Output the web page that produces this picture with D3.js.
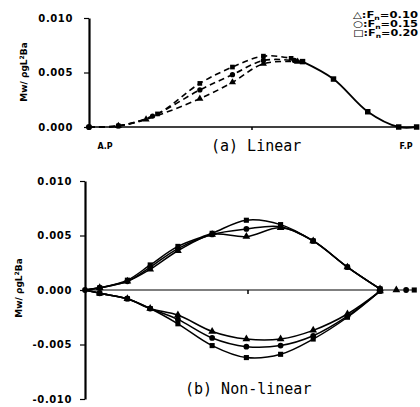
<!DOCTYPE html>
<html>
<head>
<meta charset="utf-8">
<script src="https://cdn.jsdelivr.net/npm/d3@7"></script>
<style>
    body { margin: 0; background: #fff; }
    svg { display: block; }
    .tick text { font-family: 'DejaVu Sans', sans-serif; font-weight: bold; font-size: 10px; letter-spacing: 0.6px; }
    .caption { font-family: 'DejaVu Sans Mono', monospace; font-size: 15px; }
    .small { font-family: 'DejaVu Sans', sans-serif; font-weight: bold; font-size: 8px; }
</style>
</head>
<body>
<div id="chart"></div>
<script>
// (a) Linear: stations from A.P (0) to F.P (10), values of Mw/pgL^2Ba
const linX010 = [0, 0.9, 1.75, 3.4, 4.4, 5.35, 6.4, 6.55];
const linY010 = [0, 0.0001, 0.0007, 0.0026, 0.0041, 0.0058, 0.0060, 0.0060];
const linX015 = [0, 0.9, 1.95, 3.4, 4.4, 5.35, 6.3, 6.55];
const linY015 = [0, 0.0001, 0.0010, 0.0034, 0.0048, 0.0061, 0.0061, 0.0060];
const linX020 = [0, 0.9, 2.1, 3.4, 4.4, 5.35, 6.2, 6.55];
const linY020 = [0, 0.0001, 0.0012, 0.0040, 0.0055, 0.0065, 0.0063, 0.0060];
const linCommonX = [6.55, 7.5, 8.55, 9.5, 10.05];
const linCommonY = [0.0060, 0.0044, 0.0014, 0, 0];

// (b) Non-linear: hogging (positive) and sagging (negative) branches
const nlX = [0, 0.45, 1.3, 2.0, 2.85, 3.9, 4.95, 6.0, 7.0, 8.05, 9.05];
const nlPos010 = [0, 0.0002, 0.0008, 0.0019, 0.0036, 0.0051, 0.0049, 0.0057, 0.0045, 0.0021, 0.0001];
const nlPos015 = [0, 0.0002, 0.0008, 0.0021, 0.0038, 0.0051, 0.0056, 0.0058, 0.0045, 0.0021, 0.0001];
const nlPos020 = [0, 0.0002, 0.0009, 0.0023, 0.0040, 0.0052, 0.0064, 0.0060, 0.0045, 0.0021, 0.0001];
const nlNeg010 = [0, -0.0003, -0.0008, -0.0017, -0.0023, -0.0038, -0.0045, -0.0045, -0.0037, -0.0022, -0.0001];
const nlNeg015 = [0, -0.0003, -0.0008, -0.0017, -0.0027, -0.0044, -0.0052, -0.0051, -0.0042, -0.0024, -0.0001];
const nlNeg020 = [0, -0.0003, -0.0008, -0.0017, -0.0031, -0.0051, -0.0062, -0.0059, -0.0045, -0.0025, -0.0001];
const tailX = [9.55, 9.85, 10.1];

const ticksA = [0, 0.005, 0.010];
const ticksB = [-0.010, -0.005, 0, 0.005, 0.010];
const legendSymbols = ['△', '○', '□'];
const legendValues = ['0.10', '0.15', '0.20'];

const WIDTH = 420;
const HEIGHT = 407;

const svg = d3.select('#chart').append('svg').attr('width', WIDTH).attr('height', HEIGHT);

const symbolTypes = [d3.symbolTriangle, d3.symbolCircle, d3.symbolSquare];

function zip(xs, ys) {
    return xs.map((x, i) => ({ x, y: ys[i] }));
}

function drawMarkers(g, pts, x, y, type, size) {
    g.append('g')
        .selectAll()
        .data(pts)
        .enter()
        .append('path')
        .attr('d', d3.symbol().type(type).size(size))
        .attr('transform', (d) => `translate(${x(d.x)}, ${y(d.y)})`)
        .attr('fill', '#000');
}

function drawYAxis(g, y, ticks, xPos, padding) {
    const axis = d3.axisLeft(y)
        .tickValues(ticks)
        .tickSize(5)
        .tickSizeOuter(0)
        .tickPadding(padding)
        .tickFormat((d) => d.toFixed(3));
    const a = g.append('g').attr('transform', `translate(${xPos}, 0)`).call(axis);
    a.select('.domain').attr('stroke-width', 2.2);
    a.selectAll('.tick line').attr('stroke-width', 1.2);
}

function yLabel(g, cx, cy) {
    const t = g.append('text')
        .attr('class', 'small')
        .attr('transform', `translate(${cx}, ${cy}) rotate(-90)`)
        .attr('text-anchor', 'middle')
        .style('font-size', '9px');
    t.append('tspan').text('Mw/ ρgL');
    t.append('tspan').attr('dy', -3).style('font-size', '6px').text('2');
    t.append('tspan').attr('dy', 3).text('Ba');
}

// ---------- (a) Linear ----------
const xA = d3.scaleLinear().domain([0, 10]).range([89, 415]);
const yA = d3.scaleLinear().domain([0, 0.010]).range([127, 18]);
const gA = svg.append('g');

gA.append('line')
    .attr('x1', xA(0)).attr('x2', xA(10.05))
    .attr('y1', yA(0)).attr('y2', yA(0))
    .attr('stroke', '#000').attr('stroke-width', 1.4);
gA.append('line')
    .attr('x1', xA(5)).attr('x2', xA(5))
    .attr('y1', yA(0)).attr('y2', yA(0) + 3)
    .attr('stroke', '#000').attr('stroke-width', 1.5);

drawYAxis(gA, yA, ticksA, 89, 11);

const curve = d3.curveCatmullRom.alpha(0.5);
const lineA = d3.line().x((d) => xA(d.x)).y((d) => yA(d.y)).curve(curve);

const linSeries = [zip(linX010, linY010), zip(linX015, linY015), zip(linX020, linY020)];
linSeries.forEach((pts, i) => {
    gA.append('path')
        .datum(pts)
        .attr('d', lineA)
        .attr('fill', 'none')
        .attr('stroke', '#000')
        .attr('stroke-width', 1.6)
        .attr('stroke-dasharray', '6,4');
    drawMarkers(gA, pts.slice(1, -1), xA, yA, symbolTypes[i], 22);
});

const linCommon = zip(linCommonX, linCommonY);
gA.append('path')
    .datum(linCommon)
    .attr('d', lineA)
    .attr('fill', 'none')
    .attr('stroke', '#000')
    .attr('stroke-width', 1.8);
drawMarkers(gA, linCommon, xA, yA, d3.symbolSquare, 30);
drawMarkers(gA, [{ x: 0, y: 0 }], xA, yA, d3.symbolCircle, 30);

gA.append('text').attr('class', 'small').attr('x', 105).attr('y', 149).attr('text-anchor', 'middle').text('A.P');
gA.append('text').attr('class', 'small').attr('x', 406).attr('y', 149).attr('text-anchor', 'middle').text('F.P');
gA.append('text').attr('class', 'caption').attr('x', 211).attr('y', 151).text('(a) Linear');

yLabel(gA, 27, 72);

// legend
legendSymbols.forEach((s, i) => {
    const t = gA.append('text')
        .attr('class', 'small')
        .attr('x', 353)
        .attr('y', 18 + i * 9)
        .style('font-size', '9px')
        .attr('textLength', 65)
        .attr('lengthAdjust', 'spacingAndGlyphs');
    t.append('tspan').text(`${s}:F`);
    t.append('tspan').attr('dy', 2).style('font-size', '6px').text('n');
    t.append('tspan').attr('dy', -2).text(`=${legendValues[i]}`);
});

// ---------- (b) Non-linear ----------
const xB = d3.scaleLinear().domain([0, 10]).range([85, 411]);
const yB = d3.scaleLinear().domain([-0.010, 0.010]).range([399, 181]);
const gB = svg.append('g');

gB.append('line')
    .attr('x1', xB(0)).attr('x2', xB(10.1))
    .attr('y1', yB(0)).attr('y2', yB(0))
    .attr('stroke', '#000').attr('stroke-width', 1.2);
gB.append('line')
    .attr('x1', xB(5)).attr('x2', xB(5))
    .attr('y1', yB(0)).attr('y2', yB(0) + 4)
    .attr('stroke', '#000').attr('stroke-width', 1.5);

drawYAxis(gB, yB, ticksB, 85, 8);

const lineB = d3.line().x((d) => xB(d.x)).y((d) => yB(d.y)).curve(curve);
const nlSeries = [
    zip(nlX, nlPos010), zip(nlX, nlPos015), zip(nlX, nlPos020),
    zip(nlX, nlNeg010), zip(nlX, nlNeg015), zip(nlX, nlNeg020)
];
nlSeries.forEach((pts, i) => {
    gB.append('path')
        .datum(pts)
        .attr('d', lineB)
        .attr('fill', 'none')
        .attr('stroke', '#000')
        .attr('stroke-width', 1.5);
    drawMarkers(gB, pts.slice(1), xB, yB, symbolTypes[i % 3], 26);
});
tailX.forEach((tx, i) => {
    drawMarkers(gB, [{ x: tx, y: 0 }], xB, yB, symbolTypes[i], 26);
});
drawMarkers(gB, [{ x: 0, y: 0 }], xB, yB, d3.symbolCircle, 26);

gB.append('text').attr('class', 'caption').attr('x', 185).attr('y', 394).text('(b) Non-linear');

yLabel(gB, 22, 288);
</script>
</body>
</html>
